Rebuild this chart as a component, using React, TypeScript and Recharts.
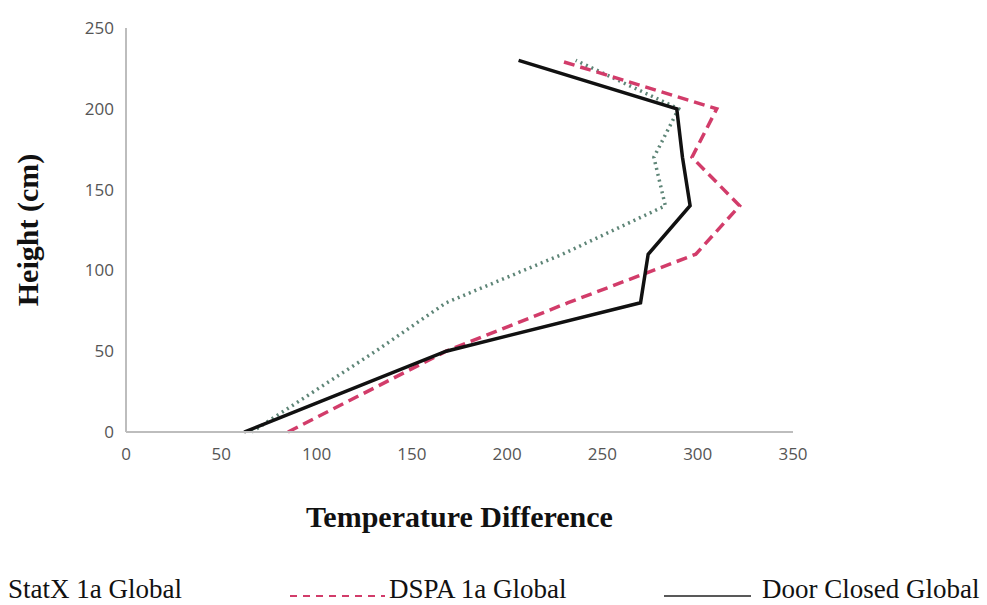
import React from 'react';
import { LineChart, Line, XAxis, YAxis } from 'recharts';

// heights (cm) where each profile was sampled
const heights = [0, 50, 80, 110, 140, 170, 200, 230];

// temperature difference per height
const statX = [66, 131, 168, 229, 283, 277, 290, 236];
const dspa = [85, 168, 232, 299, 322, 297, 310, 227];
const doorClosed = [62, 168, 270, 274, 296, 292, 289, 206];

const xTicks = [0, 50, 100, 150, 200, 250, 300, 350];
const yTicks = [0, 50, 100, 150, 200, 250];

const toRows = (vals: number[]) => vals.map((t, i) => ({ temp: t, height: heights[i] }));

const serif = '"Liberation Serif", "Times New Roman", serif';
const tickStyle = { fontFamily: '"Open Sans", sans-serif', fontSize: 17, fill: '#555' };

export default function App() {
  return (
    <div style={{ position: 'absolute', left: 0, top: 0, width: 987, height: 605, background: '#fff' }}>
      <LineChart
        width={987}
        height={605}
        margin={{ top: 28, right: 194, left: 0, bottom: 143 }}
      >
        <XAxis
          type="number"
          dataKey="temp"
          domain={[0, 350]}
          ticks={xTicks}
          tickLine={false}
          axisLine={{ stroke: '#bdbdbd', strokeWidth: 2 }}
          tick={tickStyle}
          tickMargin={10}
          height={30}
          label={{
            value: 'Temperature Difference',
            position: 'bottom',
            offset: 44,
            style: { fontFamily: serif, fontSize: 30, fontWeight: 'bold', fill: '#111' },
          }}
        />
        <YAxis
          type="number"
          dataKey="height"
          domain={[0, 250]}
          ticks={yTicks}
          tickLine={false}
          axisLine={{ stroke: '#bdbdbd', strokeWidth: 2 }}
          tick={tickStyle}
          tickMargin={6}
          width={126}
          label={{
            value: 'Height (cm)',
            angle: -90,
            position: 'insideLeft',
            offset: 27,
            style: { fontFamily: serif, fontSize: 30, fontWeight: 'bold', fill: '#111', textAnchor: 'middle' },
          }}
        />
        <Line
          data={toRows(statX)}
          dataKey="height"
          stroke="#5e8577"
          strokeWidth={3.5}
          strokeDasharray="2 4"
          dot={false}
          isAnimationActive={false}
        />
        <Line
          data={toRows(dspa)}
          dataKey="height"
          stroke="#d23c6a"
          strokeWidth={3.5}
          strokeDasharray="11 6"
          dot={false}
          isAnimationActive={false}
        />
        <Line
          data={toRows(doorClosed)}
          dataKey="height"
          stroke="#111"
          strokeWidth={3.5}
          dot={false}
          isAnimationActive={false}
        />
      </LineChart>

      {/* legend along the bottom edge */}
      <div style={{ position: 'absolute', top: 574, left: 0, width: 987, height: 31, fontFamily: serif, fontSize: 27, color: '#111', whiteSpace: 'nowrap' }}>
        <span style={{ position: 'absolute', left: 8, top: 0 }}>StatX 1a Global</span>
        <svg style={{ position: 'absolute', left: 290, top: 20 }} width={95} height={4}>
          <line x1={0} y1={2} x2={95} y2={2} stroke="#d23c6a" strokeWidth={2} strokeDasharray="7 6" />
        </svg>
        <span style={{ position: 'absolute', left: 389, top: 0 }}>DSPA 1a Global</span>
        <svg style={{ position: 'absolute', left: 664, top: 20 }} width={87} height={4}>
          <line x1={0} y1={2} x2={87} y2={2} stroke="#222" strokeWidth={1.5} />
        </svg>
        <span style={{ position: 'absolute', left: 762, top: 0 }}>Door Closed Global</span>
      </div>
    </div>
  );
}
